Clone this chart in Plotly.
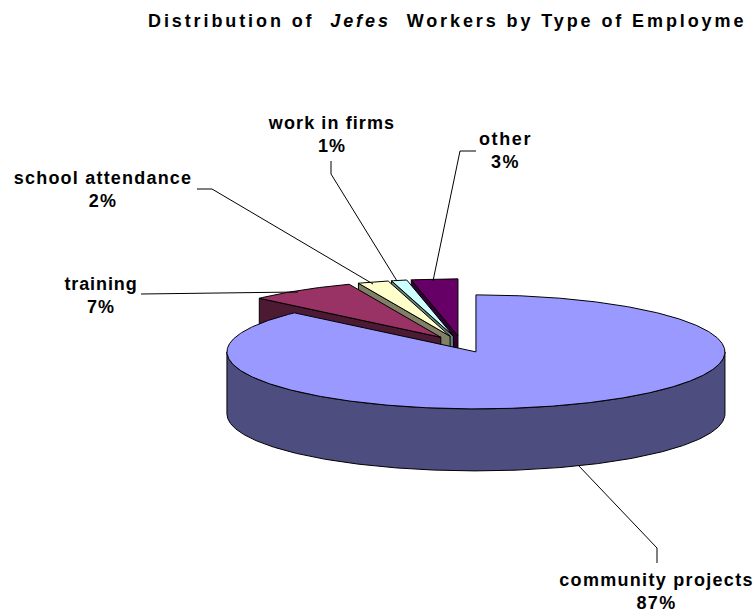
import math
import plotly.graph_objects as go

# ---- data ----
categories = ["community projects", "training", "school attendance", "work in firms", "other"]
shares = [87, 7, 2, 1, 3]
top_colors = ["#9999FF", "#993366", "#FFFFCC", "#CCFFFF", "#660066"]
wall_colors = ["#4D4D80", "#4D1A33", "#808066", "#668080", "#330033"]

# ---- projection of the tilted pie, in pixels ----
W, H = 756, 612
CX, CY = 461.4, 344.2
RX, RY = 249, 57
DEPTH = 62
EXPLODE = 0.147


def project(angle_deg, r, ox, oy, drop=0.0):
    a = math.radians(angle_deg)
    return ox + r * RX * math.sin(a), oy - r * RY * math.cos(a) + drop


def slice_geometry():
    total = sum(shares)
    out = []
    start = 0.0
    for name, share, top, wall in zip(categories, shares, top_colors, wall_colors):
        sweep = share / total * 360
        mid = start + sweep / 2
        ox, oy = project(mid, EXPLODE, CX, CY)
        out.append(dict(name=name, start=start, end=start + sweep, ox=ox, oy=oy, top=top, wall=wall))
        start += sweep
    return out


def arc(g, a0, a1, drop=0.0):
    n = max(2, int(abs(a1 - a0) * 2))
    return [project(a0 + (a1 - a0) * i / n, 1, g["ox"], g["oy"], drop) for i in range(n + 1)]


def poly(fig, pts, fill, name):
    xs = [p[0] for p in pts] + [pts[0][0]]
    ys = [p[1] for p in pts] + [pts[0][1]]
    fig.add_trace(go.Scatter(x=xs, y=ys, mode="lines", fill="toself", fillcolor=fill,
                             line=dict(color="black", width=1), name=name,
                             hoverinfo="name", showlegend=False))


fig = go.Figure()
geoms = slice_geometry()
main, small = geoms[0], geoms[1:]

# exploded slices, back to front: cut face first, then the top
for g in reversed(small):
    ax, ay = g["ox"], g["oy"]
    sx, sy = project(g["start"], 1, ax, ay)
    poly(fig, [(ax, ay), (sx, sy), (sx, sy + DEPTH), (ax, ay + DEPTH)], g["wall"], g["name"])
    poly(fig, [(ax, ay)] + arc(g, g["start"], g["end"]), g["top"], g["name"])

# large slice: front wall, then the top
front = arc(main, 90, 270)
front_low = arc(main, 270, 90, DEPTH)
poly(fig, front + front_low, main["wall"], main["name"])
poly(fig, [(main["ox"], main["oy"])] + arc(main, main["start"], main["end"]), main["top"], main["name"])

# ---- leader lines (layout furniture) ----
leaders = [
    [(476, 151), (460, 151), (433, 281)],
    [(331, 161), (331, 174), (397, 281)],
    [(197, 189), (212, 189), (373, 284)],
    [(141, 294), (298, 292)],
    [(578, 465), (657, 548), (657, 563)],
]
for pts in leaders:
    fig.add_trace(go.Scatter(x=[p[0] for p in pts], y=[p[1] for p in pts], mode="lines",
                             line=dict(color="black", width=1), hoverinfo="skip", showlegend=False))

# ---- labels ----
label_font = dict(family="Liberation Sans, Arial, sans-serif", size=18, color="black", weight="bold")
label_pos = {
    "community projects": (656, 591),
    "training": (101, 295),
    "school attendance": (103, 189),
    "work in firms": (331, 134),
    "other": (505, 150),
}
annotations = []
for name, share in zip(categories, shares):
    x, y = label_pos[name]
    annotations.append(dict(x=x, y=y, xref="x", yref="y", text=f"<b>{name}<br>{share}%</b>", showarrow=False,
                            xanchor="center", yanchor="middle", align="center", font=label_font))
annotations.append(dict(x=146 / W, y=1 - 21 / H, xref="paper", yref="paper", xanchor="left", yanchor="middle",
                        showarrow=False, align="left",
                        text="<b>Distribution of  <i>Jefes</i>  Workers by Type of Employme</b>",
                        font=dict(family="Liberation Sans, Arial, sans-serif", size=18, color="black", weight="bold")))

fig.update_layout(
    width=W, height=H, margin=dict(l=0, r=0, t=0, b=0),
    paper_bgcolor="white", plot_bgcolor="white", showlegend=False,
    xaxis=dict(range=[0, W], visible=False, fixedrange=True),
    yaxis=dict(range=[H, 0], visible=False, fixedrange=True),
    annotations=annotations,
)

post = """
document.body.style.margin='0';
var sp=['1.3px','0.9px','1.2px','1.1px','1.6px','2.9px'];
document.querySelectorAll('.annotation-text').forEach(function(t,i){t.style.letterSpacing=sp[i]||'2px';});
"""
fig.write_html("out.html", post_script=post, config={"displayModeBar": False})
